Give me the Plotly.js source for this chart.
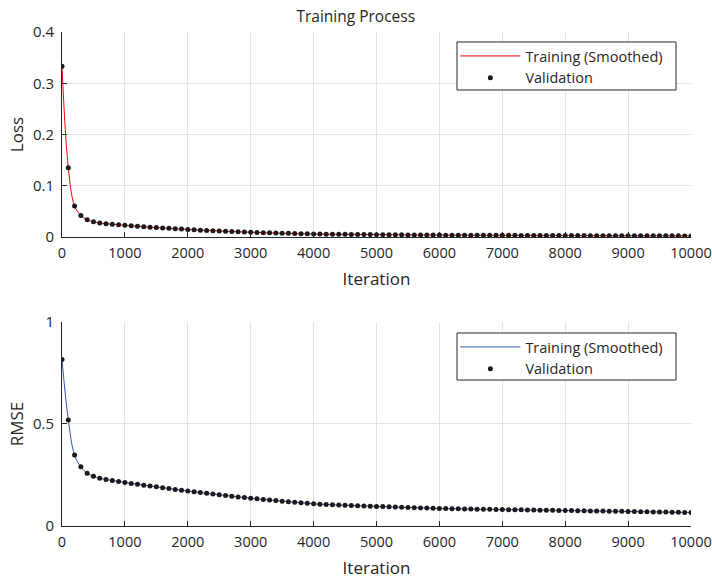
<!DOCTYPE html>
<html>
<head>
<meta charset="utf-8">
<script src="https://cdn.plot.ly/plotly-3.0.1.min.js"></script>
<style>
html,body{margin:0;padding:0;background:#fff;}
#chart{width:712px;height:581px;}
</style>
</head>
<body>
<div id="chart"></div>
<script>
// Iterations at which validation (and smoothed training) values are plotted
const iterations = [
  0,100,200,300,400,500,600,700,800,900,
  1000,1100,1200,1300,1400,1500,1600,1700,1800,1900,
  2000,2100,2200,2300,2400,2500,2600,2700,2800,2900,
  3000,3100,3200,3300,3400,3500,3600,3700,3800,3900,
  4000,4100,4200,4300,4400,4500,4600,4700,4800,4900,
  5000,5100,5200,5300,5400,5500,5600,5700,5800,5900,
  6000,6100,6200,6300,6400,6500,6600,6700,6800,6900,
  7000,7100,7200,7300,7400,7500,7600,7700,7800,7900,
  8000,8100,8200,8300,8400,8500,8600,8700,8800,8900,
  9000,9100,9200,9300,9400,9500,9600,9700,9800,9900,
  10000
];

// Loss (top panel)
const trainLoss = [
  0.3321,0.1357,0.0602,0.0421,0.0335,0.0298,0.0274,0.0260,0.0249,0.0238,
  0.0227,0.0218,0.0209,0.0200,0.0192,0.0184,0.0176,0.0169,0.0161,0.0154,
  0.0147,0.0141,0.0134,0.0128,0.0123,0.0117,0.0112,0.0107,0.0102,0.0097,
  0.0093,0.0088,0.0085,0.0081,0.0078,0.0074,0.0071,0.0068,0.0065,0.0062,
  0.0059,0.0057,0.0056,0.0054,0.0053,0.0052,0.0051,0.0049,0.0048,0.0047,
  0.0046,0.0045,0.0044,0.0043,0.0042,0.0041,0.0040,0.0039,0.0039,0.0038,
  0.0037,0.0036,0.0036,0.0035,0.0035,0.0034,0.0034,0.0034,0.0033,0.0033,
  0.0032,0.0032,0.0032,0.0031,0.0031,0.0031,0.0030,0.0030,0.0030,0.0029,
  0.0029,0.0029,0.0028,0.0028,0.0027,0.0027,0.0027,0.0026,0.0026,0.0026,
  0.0025,0.0025,0.0025,0.0024,0.0024,0.0024,0.0023,0.0023,0.0023,0.0022,
  0.0022
];
const valLoss = [
  0.3330,0.1350,0.0605,0.0420,0.0336,0.0300,0.0275,0.0260,0.0250,0.0238,
  0.0228,0.0218,0.0209,0.0201,0.0192,0.0184,0.0176,0.0169,0.0161,0.0154,
  0.0148,0.0141,0.0134,0.0128,0.0123,0.0117,0.0112,0.0107,0.0102,0.0097,
  0.0093,0.0088,0.0085,0.0081,0.0078,0.0074,0.0071,0.0068,0.0065,0.0062,
  0.0059,0.0057,0.0056,0.0054,0.0053,0.0052,0.0051,0.0049,0.0048,0.0047,
  0.0046,0.0045,0.0044,0.0043,0.0042,0.0041,0.0040,0.0039,0.0039,0.0038,
  0.0037,0.0036,0.0036,0.0035,0.0035,0.0034,0.0034,0.0034,0.0033,0.0033,
  0.0032,0.0032,0.0032,0.0031,0.0031,0.0031,0.0030,0.0030,0.0030,0.0029,
  0.0029,0.0029,0.0028,0.0028,0.0027,0.0027,0.0027,0.0026,0.0026,0.0026,
  0.0025,0.0025,0.0025,0.0024,0.0024,0.0024,0.0023,0.0023,0.0023,0.0022,
  0.0022
];

// RMSE (bottom panel)
const trainRMSE = [
  0.815,0.521,0.347,0.290,0.259,0.244,0.234,0.228,0.223,0.218,
  0.213,0.2087,0.2044,0.2002,0.1960,0.1918,0.1877,0.1836,0.1795,0.1755,
  0.1715,0.1677,0.1640,0.1603,0.1567,0.1531,0.1496,0.1461,0.1427,0.1393,
  0.1365,0.1330,0.1301,0.1273,0.1245,0.1218,0.1192,0.1166,0.1141,0.1116,
  0.1085,0.1070,0.1056,0.1043,0.1030,0.1018,0.1006,0.0994,0.0983,0.0972,
  0.0961,0.0950,0.0939,0.0928,0.0918,0.0908,0.0898,0.0888,0.0878,0.0868,
  0.0858,0.0852,0.0846,0.0841,0.0835,0.0830,0.0825,0.0820,0.0815,0.0810,
  0.0805,0.0800,0.0796,0.0791,0.0787,0.0782,0.0778,0.0773,0.0769,0.0764,
  0.0760,0.0755,0.0750,0.0745,0.0740,0.0736,0.0731,0.0726,0.0721,0.0717,
  0.0712,0.0707,0.0702,0.0697,0.0692,0.0686,0.0681,0.0676,0.0671,0.0666,
  0.0661
];
const valRMSE = [
  0.816,0.520,0.348,0.290,0.259,0.244,0.234,0.228,0.223,0.218,
  0.213,0.2087,0.2044,0.2002,0.1960,0.1918,0.1877,0.1836,0.1795,0.1755,
  0.1715,0.1677,0.1640,0.1603,0.1567,0.1531,0.1496,0.1461,0.1427,0.1393,
  0.1365,0.1330,0.1301,0.1273,0.1245,0.1218,0.1192,0.1166,0.1141,0.1116,
  0.1085,0.1070,0.1056,0.1043,0.1030,0.1018,0.1006,0.0994,0.0983,0.0972,
  0.0961,0.0950,0.0939,0.0928,0.0918,0.0908,0.0898,0.0888,0.0878,0.0868,
  0.0858,0.0852,0.0846,0.0841,0.0835,0.0830,0.0825,0.0820,0.0815,0.0810,
  0.0805,0.0800,0.0796,0.0791,0.0787,0.0782,0.0778,0.0773,0.0769,0.0764,
  0.0760,0.0755,0.0750,0.0745,0.0740,0.0736,0.0731,0.0726,0.0721,0.0717,
  0.0712,0.0707,0.0702,0.0697,0.0692,0.0686,0.0681,0.0676,0.0671,0.0666,
  0.0661
];

const xTicks = [0,1000,2000,3000,4000,5000,6000,7000,8000,9000,10000];
const lossTicks = [0,0.1,0.2,0.3,0.4];
const rmseTicks = [0,0.5,1];

const FONT = '"Open Sans", "Noto Sans", sans-serif';
const TXT = '#262626';
const AXC = '#262626';
const GRID = '#e3e3e3';

const traces = [
  {x: iterations, y: trainLoss, type: 'scatter', mode: 'lines', name: 'Training (Smoothed)',
   line: {color: '#ff0000', width: 1, shape: 'spline'}, xaxis: 'x', yaxis: 'y', legend: 'legend'},
  {x: iterations, y: valLoss, type: 'scatter', mode: 'markers', name: 'Validation',
   marker: {color: '#1a1a1a', size: 5}, xaxis: 'x', yaxis: 'y', legend: 'legend'},
  {x: iterations, y: trainRMSE, type: 'scatter', mode: 'lines', name: 'Training (Smoothed)',
   line: {color: '#2f52b5', width: 1, shape: 'spline'}, xaxis: 'x2', yaxis: 'y2', legend: 'legend2'},
  {x: iterations, y: valRMSE, type: 'scatter', mode: 'markers', name: 'Validation',
   marker: {color: '#1a1a1a', size: 5}, xaxis: 'x2', yaxis: 'y2', legend: 'legend2'}
];

function xAxis(anchor) {
  return {
    anchor: anchor, domain: [0, 1], range: [0, 10000.01],
    tickvals: xTicks, ticktext: xTicks.map(String),
    ticks: 'inside', ticklen: 5, tickcolor: AXC, tickwidth: 1,
    showline: true, linecolor: AXC, linewidth: 1, mirror: false,
    showgrid: true, gridcolor: GRID, gridwidth: 1, zeroline: false,
    ticklabeloverflow: 'allow', ticklabelstandoff: 3,
    tickfont: {family: FONT, size: 14.5, color: TXT},
    title: {text: 'Iteration', font: {family: FONT, size: 17, color: TXT}, standoff: 11}
  };
}
function yAxis(anchor, domain, range, ticks, label) {
  return {
    anchor: anchor, domain: domain, range: range,
    tickvals: ticks, ticktext: ticks.map(String),
    ticks: 'inside', ticklen: 5, tickcolor: AXC, tickwidth: 1,
    showline: true, linecolor: AXC, linewidth: 1, mirror: false,
    showgrid: true, gridcolor: GRID, gridwidth: 1, zeroline: false,
    ticklabelstandoff: 4,
    tickfont: {family: FONT, size: 15, color: TXT},
    title: {text: label, font: {family: FONT, size: 17, color: TXT}, standoff: 4}
  };
}

const legendStyle = {
  xref: 'paper', yref: 'paper', xanchor: 'left', yanchor: 'top',
  bgcolor: 'rgba(0,0,0,0)', borderwidth: 0,
  font: {family: FONT, size: 14.5, color: TXT},
  itemwidth: 60, tracegroupgap: 0
};

const boxStyle = {type: 'rect', xref: 'paper', yref: 'paper', layer: 'above',
  fillcolor: '#ffffff', line: {color: '#262626', width: 1}};

const layout = {
  width: 712, height: 581,
  margin: {l: 62, r: 21, t: 32, b: 55},
  paper_bgcolor: '#ffffff', plot_bgcolor: '#ffffff',
  font: {family: FONT, color: TXT},
  title: {text: 'Training Process', font: {family: FONT, size: 15.5, color: TXT},
          x: 0.467, xref: 'paper', xanchor: 'center', y: 0.971, yref: 'container', yanchor: 'middle'},
  xaxis: xAxis('y'),
  yaxis: yAxis('x', [0.585, 1], [0, 0.4], lossTicks, 'Loss'),
  xaxis2: xAxis('y2'),
  yaxis2: yAxis('x2', [0, 0.413], [0, 1], rmseTicks, 'RMSE'),
  legend: Object.assign({x: 0.6254, y: 0.9838}, legendStyle),
  legend2: Object.assign({x: 0.6254, y: 0.3947}, legendStyle),
  shapes: [
    Object.assign({x0: 0.628, x1: 0.9762, y0: 0.8826, y1: 0.9798}, boxStyle),
    Object.assign({x0: 0.628, x1: 0.9762, y0: 0.2955, y1: 0.3907}, boxStyle)
  ],
  showlegend: true
};

Plotly.newPlot('chart', traces, layout, {displayModeBar: false, staticPlot: true});
</script>
</body>
</html>
